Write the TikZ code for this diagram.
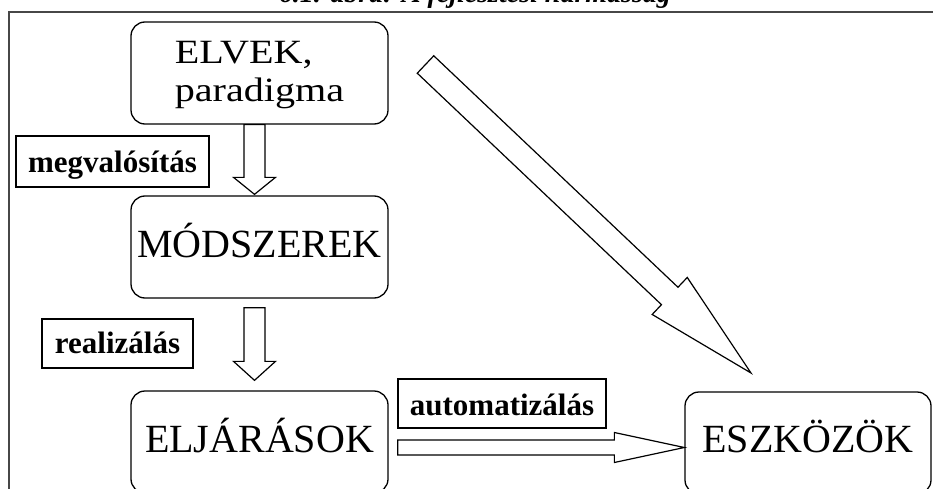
\documentclass[tikz,border=0pt]{standalone}
\usepackage{fontspec}
\usepackage{graphicx}
\setmainfont{Liberation Serif}
\usetikzlibrary{calc}

% Hollow block arrow: #1 tail, #2 tip, #3 shaft half-width, #4 head half-width, #5 head length
\newcommand\drawblockarrow[5]{%
  \coordinate (ba-h) at ($(#2)!#5!(#1)$);
  \draw[blockarrow] ($(#1)!#3!90:(#2)$) -- ($(ba-h)!#3!90:(#2)$) -- ($(ba-h)!#4!90:(#2)$)
    -- (#2) -- ($(ba-h)!#4!-90:(#2)$) -- ($(ba-h)!#3!-90:(#2)$) -- ($(#1)!#3!-90:(#2)$) -- cycle;}

\begin{document}
\begin{tikzpicture}[x=1pt,y=-1pt,
  bigbox/.style={draw, line width=1.3pt, rounded corners=14pt, inner sep=0pt,
    minimum width=257pt, font=\fontsize{40}{46}\selectfont},
  labelbox/.style={draw, line width=1.4pt, inner sep=0pt,
    font=\fontsize{31}{36}\selectfont\bfseries},
  blockarrow/.style={draw, line width=1.2pt, line join=miter, fill=white},
  frame/.style={draw=black!72, line width=2pt}]

\useasboundingbox (0,0) rectangle (933,489);
\clip (0,0) rectangle (933,489);

% figure caption (running off the top edge) and frame
\node[anchor=base, font=\fontsize{28}{32}\selectfont\bfseries\itshape] (caption) at (475,3)
  {6.1. ábra: A fejlesztési hármasság};
\draw[frame] (9,500) -- (9,12) -- (940,12);

% main boxes
\node[bigbox, text height=80pt, text depth=22pt, align=left,
      font=\fontsize{34}{38}\selectfont] (elvek) at (259.5,73)
  {\scalebox{1.18}[1]{ELVEK,}\\\scalebox{1.18}[1]{paradigma}};
\node[bigbox, text height=61pt, text depth=41pt] (modszerek) at (259.5,247) {MÓDSZEREK};
\node[bigbox, text height=61pt, text depth=41pt] (eljarasok) at (259.5,442) {ELJÁRÁSOK};
\node[bigbox, minimum width=246pt, text height=60pt, text depth=42pt] (eszkozok) at (808,443) {ESZKÖZÖK};

% labels
\node[labelbox, minimum width=193pt, text height=36pt, text depth=15pt] (megval) at (112.5,161.5) {megvalósítás};
\node[labelbox, minimum width=151pt, text height=34pt, text depth=15pt] (realiz) at (117.5,343.5) {realizálás};
\node[labelbox, minimum width=208pt, text height=36pt, text depth=13pt] (automat) at (502,403.5) {automatizálás};

% arrow end points
\coordinate (a1t) at ([xshift=-5pt]elvek.south);
\coordinate (a1h) at ([xshift=-5pt,yshift=1pt]modszerek.north);
\coordinate (a2t) at ([xshift=-5pt,yshift=-9pt]modszerek.south);
\coordinate (a2h) at ([xshift=-5pt,yshift=10pt]eljarasok.north);
\coordinate (a3t) at ($(eljarasok.east)+(9,5.5)$);
\coordinate (a3h) at ($(eszkozok.west)+(0,4.5)$);
\coordinate (a4t) at (425.5,64.5);
\coordinate (a4h) at (751,373);

% block arrows
\drawblockarrow{a1t}{a1h}{10.5pt}{21pt}{17pt}
\drawblockarrow{a2t}{a2h}{10.5pt}{21pt}{19pt}
\drawblockarrow{a3t}{a3h}{7.5pt}{15pt}{70pt}
\drawblockarrow{a4t}{a4h}{12pt}{25.5pt}{112pt}

\end{tikzpicture}
\end{document}
